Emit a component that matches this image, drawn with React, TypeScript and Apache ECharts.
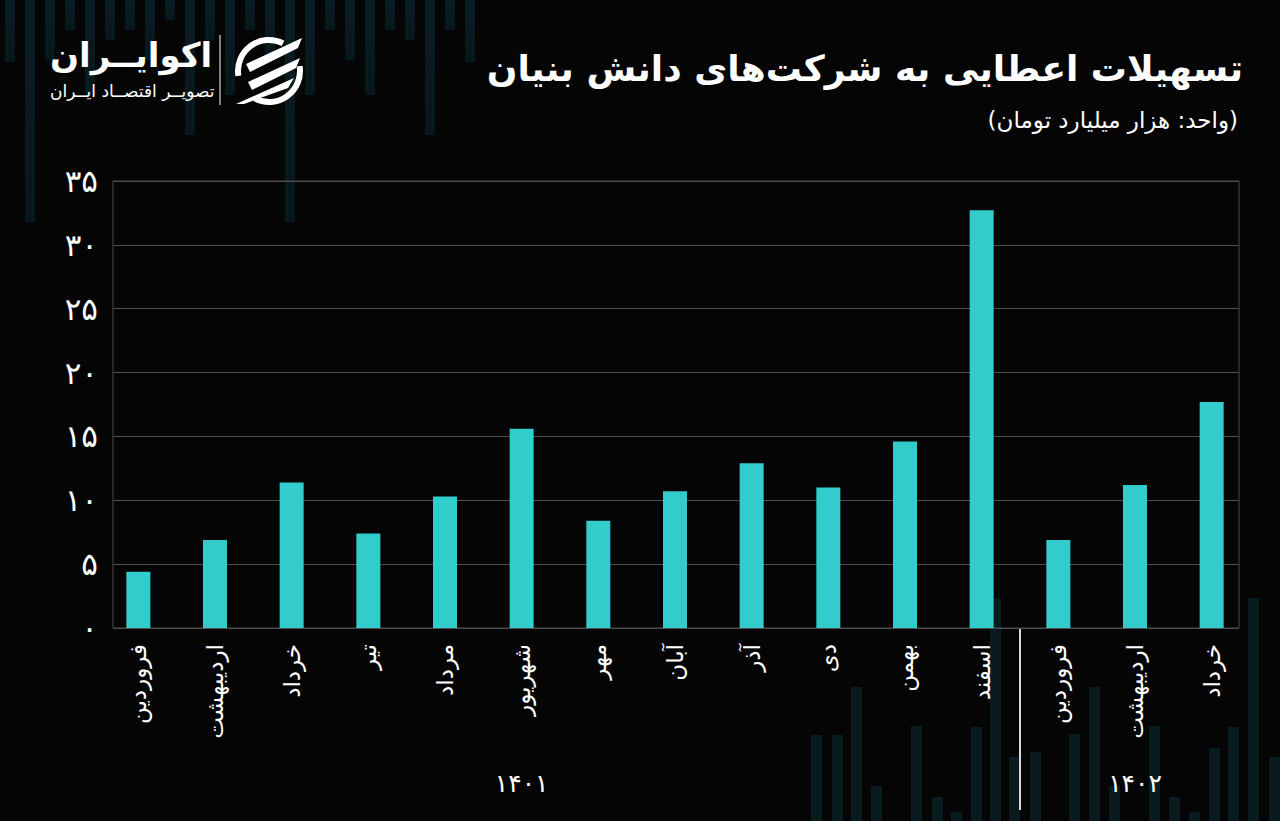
import React, { useEffect, useRef } from "react";
import * as echarts from "echarts";

const months = [
  "فروردین", "اردیبهشت", "خرداد", "تیر", "مرداد", "شهریور", "مهر", "آبان",
  "آذر", "دی", "بهمن", "اسفند", "فروردین", "اردیبهشت", "خرداد",
];
const values = [4.4, 6.9, 11.4, 7.4, 10.3, 15.6, 8.4, 10.7, 12.9, 11.0, 14.6, 32.7, 6.9, 11.2, 17.7];
const yearLabels = ["", "", "", "", "", "۱۴۰۱", "", "", "", "", "", "", "", "۱۴۰۲", ""];
const yTicks = [0, 5, 10, 15, 20, 25, 30, 35];

const title = "تسهیلات اعطایی به شرکت‌های دانش بنیان";
const subtitle = "(واحد: هزار میلیارد تومان)";
const brand = "اکوایــران";
const brandSub = "تصویــر اقتصــاد ایــران";

const FONT = "'DejaVu Sans', sans-serif";
const BAR = "#33cccc";

const toFa = (n: number | string) =>
  String(n).replace(/[0-9]/g, (d) => "۰۱۲۳۴۵۶۷۸۹"[Number(d)]);

// decoration (background stripes)
const topDeco = [
  [5, 62], [25, 222], [45, 60], [65, 30], [85, 95], [105, 40], [125, 30], [145, 60],
  [165, 20], [185, 135], [205, 40], [225, 95], [245, 30], [265, 60], [285, 222],
  [305, 95], [325, 30], [345, 60], [365, 95], [385, 30], [405, 40], [425, 135],
  [445, 30], [465, 62],
];
const bottomDeco = [
  [811, 735], [832, 735], [851, 687], [871, 786], [911, 726], [932, 797], [951, 812],
  [971, 727], [990, 598], [1009, 757], [1030, 752], [1069, 734], [1089, 687],
  [1109, 786], [1149, 726], [1169, 797], [1189, 812], [1209, 748], [1228, 727],
  [1248, 598], [1269, 757],
];

const GRID_TOP = 181;
const GRID_BOTTOM = 193;
const BAR_LEFT = 100;
const BAR_RIGHT = 30;

export default function App() {
  const ref = useRef<HTMLDivElement>(null);
  useEffect(() => {
    if (!ref.current) return;
    const chart = echarts.init(ref.current, null, { renderer: "svg" });

    const deco: any[] = [];
    topDeco.forEach(([x, b]) =>
      deco.push({
        type: "rect",
        silent: true,
        z: -10,
        shape: { x, y: 0, width: 10, height: b },
        style: {
          fill: new echarts.graphic.LinearGradient(0, 0, 0, 1, [
            { offset: 0, color: "#0a1d23" },
            { offset: 1, color: "#07181c" },
          ]),
        },
      })
    );
    bottomDeco.forEach(([x, t]) =>
      deco.push({
        type: "rect",
        silent: true,
        z: -10,
        shape: { x, y: t, width: 11, height: 821 - t },
        style: { fill: "#0a1b20" },
      })
    );

    const plotW = 1280 - BAR_LEFT - BAR_RIGHT;
    const sepX = BAR_LEFT + (12 * plotW) / months.length;

    const option: any = {
      animation: false,
      backgroundColor: "#050505",
      grid: [
        {
          left: 113, right: 41, top: GRID_TOP, bottom: GRID_BOTTOM,
          show: true, borderColor: "#4d4d4d", borderWidth: 1, backgroundColor: "transparent",
        },
        { left: BAR_LEFT, right: BAR_RIGHT, top: GRID_TOP, bottom: GRID_BOTTOM },
      ],
      xAxis: [
        { gridIndex: 0, type: "category", data: months, show: false },
        {
          gridIndex: 1, type: "category", data: months, boundaryGap: true,
          axisLine: { show: false }, axisTick: { show: false },
          axisLabel: {
            rotate: 90, margin: 16, color: "#ffffff", fontSize: 23,
            fontFamily: FONT, interval: 0,
          },
        },
        {
          gridIndex: 1, type: "category", data: yearLabels, position: "bottom",
          offset: 135, axisLine: { show: false }, axisTick: { show: false },
          axisLabel: { interval: 0, color: "#ffffff", fontSize: 25, fontFamily: FONT },
        },
      ],
      yAxis: [
        {
          gridIndex: 0, type: "value", min: 0, max: 35, interval: 5,
          axisLine: { show: false }, axisTick: { show: false },
          splitLine: { lineStyle: { color: "#4d4d4d", width: 1 } },
          axisLabel: {
            margin: 15, color: "#ffffff", fontSize: 31, fontFamily: FONT,
            formatter: (v: number) => (yTicks.includes(v) ? toFa(v) : ""),
          },
        },
        { gridIndex: 1, type: "value", min: 0, max: 35, show: false },
      ],
      series: [
        {
          type: "bar", xAxisIndex: 1, yAxisIndex: 1, data: values,
          barWidth: 24, itemStyle: { color: BAR }, z: 5,
        },
      ],
      graphic: [
        ...deco,
        {
          type: "line", silent: true, z: 10,
          shape: { x1: sepX, y1: 629, x2: sepX, y2: 810 },
          style: { stroke: "#d9d9d9", lineWidth: 2 },
        },
        {
          type: "text", z: 10, right: 37, top: 50,
          style: {
            text: title, fill: "#ffffff", fontSize: 36, fontWeight: "bold",
            fontFamily: FONT, textAlign: "right",
          },
        },
        {
          type: "text", z: 10, right: 42, top: 108,
          style: {
            text: subtitle, fill: "#ffffff", fontSize: 23,
            fontFamily: FONT, textAlign: "right",
          },
        },
        {
          type: "text", z: 10, left: 50, top: 38,
          style: {
            text: brand, fill: "#ffffff", fontSize: 34, fontWeight: "bold",
            fontFamily: FONT,
          },
        },
        {
          type: "text", z: 10, left: 50, top: 82,
          style: {
            text: brandSub, fill: "#ffffff", fontSize: 17, fontFamily: FONT,
          },
        },
        {
          type: "line", z: 10, silent: true,
          shape: { x1: 220, y1: 35, x2: 220, y2: 105 },
          style: { stroke: "#ffffff", lineWidth: 1 },
        },
        {
          type: "arc", z: 10, silent: true,
          shape: { cx: 269, cy: 71, r: 31, startAngle: Math.PI * 0.95, endAngle: Math.PI * 1.65 },
          style: { stroke: "#ffffff", lineWidth: 6, fill: "none" },
        },
        {
          type: "arc", z: 10, silent: true,
          shape: { cx: 269, cy: 71, r: 31, startAngle: Math.PI * -0.05, endAngle: Math.PI * 0.65 },
          style: { stroke: "#ffffff", lineWidth: 6, fill: "none" },
        },
        {
          type: "polygon", z: 10, silent: true,
          shape: { points: [[246, 64], [302, 38], [298, 48], [250, 72]] },
          style: { fill: "#ffffff" },
        },
        {
          type: "polygon", z: 10, silent: true,
          shape: { points: [[248, 82], [300, 58], [296, 68], [252, 90]] },
          style: { fill: "#ffffff" },
        },
        {
          type: "polygon", z: 10, silent: true,
          shape: { points: [[236, 104], [294, 78], [288, 88], [244, 104]] },
          style: { fill: "#ffffff" },
        },
      ],
    };
    chart.setOption(option);
    return () => chart.dispose();
  }, []);
  return (
    <div
      ref={ref}
      style={{ position: "fixed", left: 0, top: 0, width: 1280, height: 821 }}
    />
  );
}
